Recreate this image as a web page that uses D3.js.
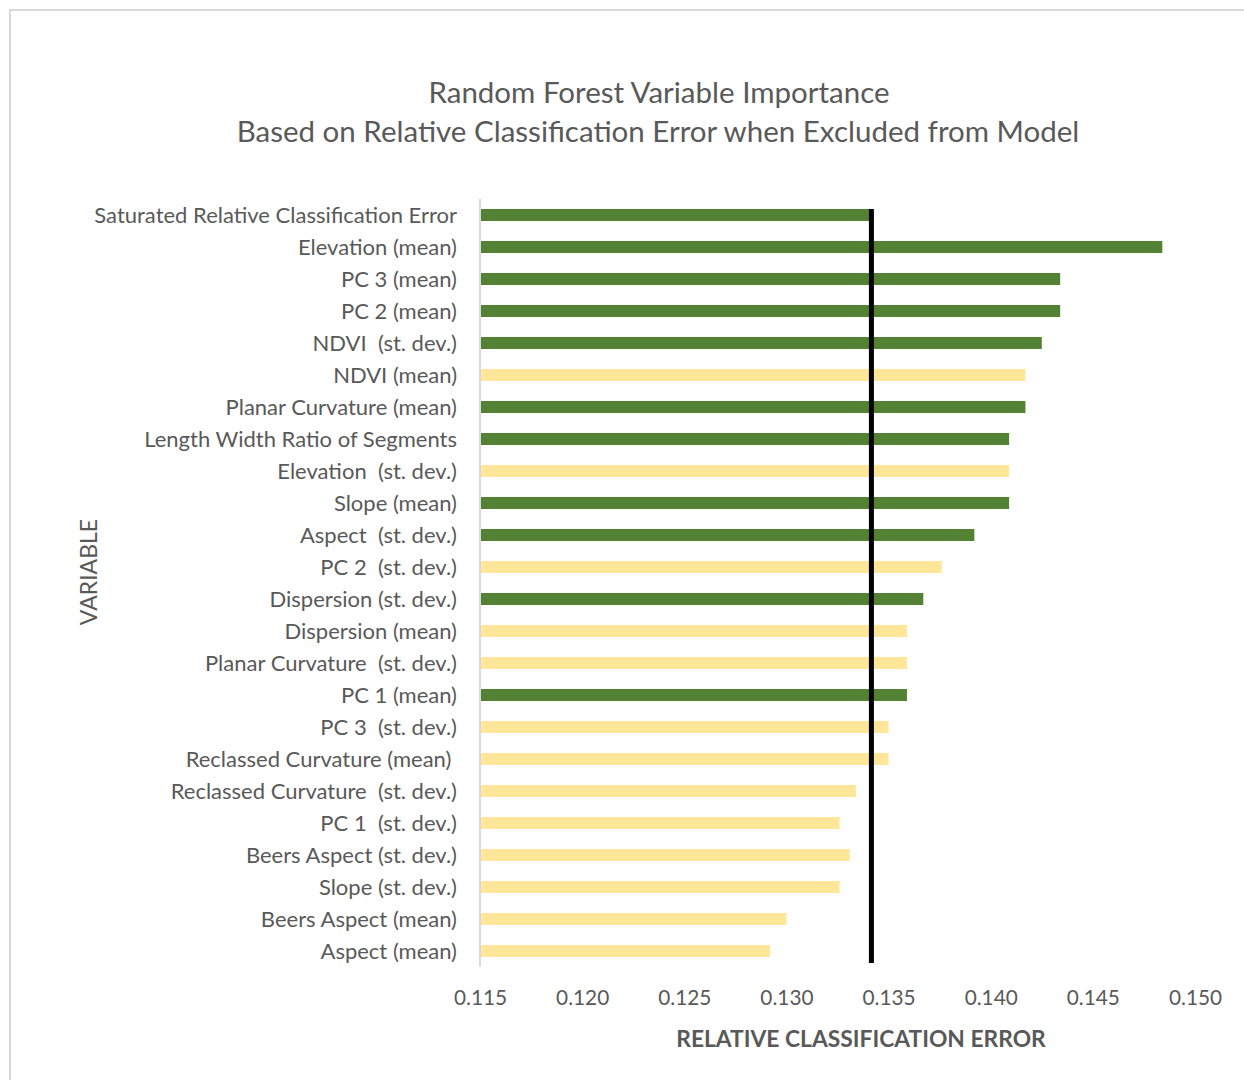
<!DOCTYPE html>
<html>
<head>
<meta charset="utf-8">
<script src="https://cdn.jsdelivr.net/npm/d3@7"></script>
<style>
  body { margin: 0; background: #fff; }
  text { font-family: Lato, "Open Sans", sans-serif; fill: #595959; }
</style>
</head>
<body>
<svg id="chart"></svg>
<script>
// variables, top to bottom
const variables = [
    "Saturated Relative Classification Error",
    "Elevation (mean)",
    "PC 3 (mean)",
    "PC 2 (mean)",
    "NDVI  (st. dev.)",
    "NDVI (mean)",
    "Planar Curvature (mean)",
    "Length Width Ratio of Segments",
    "Elevation  (st. dev.)",
    "Slope (mean)",
    "Aspect  (st. dev.)",
    "PC 2  (st. dev.)",
    "Dispersion (st. dev.)",
    "Dispersion (mean)",
    "Planar Curvature  (st. dev.)",
    "PC 1 (mean)",
    "PC 3  (st. dev.)",
    "Reclassed Curvature (mean) ",
    "Reclassed Curvature  (st. dev.)",
    "PC 1  (st. dev.)",
    "Beers Aspect (st. dev.)",
    "Slope (st. dev.)",
    "Beers Aspect (mean)",
    "Aspect (mean)"
];

const errors = [
    0.1342, 0.1484, 0.1434, 0.1434, 0.1425, 0.1417, 0.1417, 0.1409,
    0.1409, 0.1409, 0.1392, 0.1376, 0.1367, 0.1359, 0.1359, 0.1359,
    0.1350, 0.1350, 0.1334, 0.1326, 0.1331, 0.1326, 0.1300, 0.1292
];

// true = kept in the final model (green), false = dropped (yellow)
const kept = [
    true, true, true, true, true, false, true, true,
    false, true, true, false, true, false, false, true,
    false, false, false, false, false, false, false, false
];

const saturatedError = 0.13416;
const xTicks = [0.115, 0.120, 0.125, 0.130, 0.135, 0.140, 0.145, 0.150];

const W = 1244, H = 1080;
const margin = { top: 199, right: 48, bottom: 113, left: 480 },
    width = W - margin.left - margin.right,
    height = H - margin.top - margin.bottom;

const root = d3.select("#chart").attr("width", W).attr("height", H);

// chart frame
root.append("rect")
    .attr("x", 10).attr("y", 10)
    .attr("width", W + 20).attr("height", H + 20)
    .attr("fill", "#fff")
    .attr("stroke", "#d9d9d9")
    .attr("stroke-width", 2);

const svg = root.append("g")
    .attr("transform", `translate(${margin.left}, ${margin.top})`);

const data = variables.map((v, i) => ({ name: v, value: errors[i], kept: kept[i] }));

const xScale = d3.scaleLinear()
    .domain([0.115, 0.150])
    .range([0, 715]);

const yScale = d3.scaleBand()
    .domain(variables)
    .range([0, height])
    .paddingInner(0.625)
    .paddingOuter(0.3125);

const colorScale = d3.scaleOrdinal()
    .domain([true, false])
    .range(["#548235", "#ffe699"]);

// bars
svg.selectAll(".bar")
    .data(data)
    .enter().append("rect")
    .attr("class", "bar")
    .attr("x", 0)
    .attr("y", d => yScale(d.name))
    .attr("width", d => xScale(d.value) - xScale(0.115))
    .attr("height", yScale.bandwidth())
    .attr("fill", d => colorScale(d.kept));

// y axis line
svg.append("line")
    .attr("x1", 0).attr("x2", 0)
    .attr("y1", 0).attr("y2", height)
    .attr("stroke", "#d9d9d9")
    .attr("stroke-width", 2);

// category labels
svg.selectAll(".label")
    .data(data)
    .enter().append("text")
    .attr("class", "label")
    .attr("x", -23)
    .attr("y", d => yScale(d.name) + yScale.bandwidth() / 2)
    .attr("dy", "0.35em")
    .style("text-anchor", "end")
    .style("white-space", "pre")
    .style("font-size", "22px")
    .text(d => d.name);

// x axis ticks (no line, just labels)
const xAxis = svg.append("g")
    .attr("transform", `translate(0, ${height})`)
    .call(d3.axisBottom(xScale).tickValues(xTicks).tickFormat(d3.format(".3f")).tickSize(0).tickPadding(23));
xAxis.select(".domain").remove();
xAxis.selectAll("text")
    .style("font-family", "Lato, sans-serif")
    .style("font-size", "20.8px")
    .attr("fill", "#595959");

// saturated error reference line
svg.append("line")
    .attr("x1", xScale(saturatedError)).attr("x2", xScale(saturatedError))
    .attr("y1", yScale(variables[0]))
    .attr("y2", height - 4)
    .attr("stroke", "#000")
    .attr("stroke-width", 5);

// titles
root.append("text")
    .attr("x", 659).attr("y", 103)
    .style("text-anchor", "middle")
    .style("font-size", "29.5px")
    .text("Random Forest Variable Importance");
root.append("text")
    .attr("x", 658).attr("y", 142)
    .style("text-anchor", "middle")
    .style("font-size", "29.5px")
    .text("Based on Relative Classification Error when Excluded from Model");

root.append("text")
    .attr("x", 861).attr("y", 1047)
    .style("text-anchor", "middle")
    .style("font-size", "22.8px")
    .style("font-weight", "bold")
    .text("RELATIVE CLASSIFICATION ERROR");

root.append("text")
    .attr("transform", "translate(97, 572) rotate(-90)")
    .style("text-anchor", "middle")
    .style("font-size", "23px")
    .text("VARIABLE");
</script>
</body>
</html>
